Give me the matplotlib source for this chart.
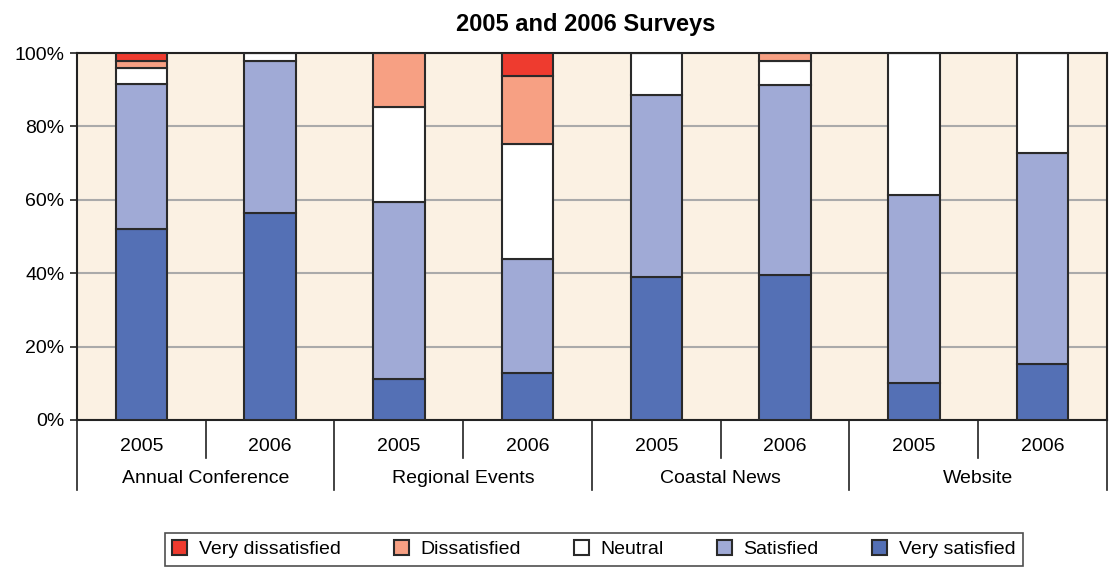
import matplotlib.pyplot as plt
import numpy as np

plt.rcParams['font.family'] = ['Liberation Sans', 'DejaVu Sans']

groups = ['Annual Conference', 'Regional Events', 'Coastal News', 'Website']
years = ['2005', '2006']
levels = ['Very satisfied', 'Satisfied', 'Neutral', 'Dissatisfied', 'Very dissatisfied']
colors = ['#5470B5', '#A0AAD6', '#FFFFFF', '#F7A083', '#EE3B2F']

# percent per bar, order: AC05, AC06, RE05, RE06, CN05, CN06, W05, W06
very_satisfied = [52.0, 56.4, 11.2, 12.8, 39.0, 39.5, 10.1, 15.3]
satisfied = [39.6, 41.5, 48.1, 31.1, 49.6, 51.9, 51.2, 57.5]
neutral = [4.2, 2.1, 26.0, 31.3, 11.4, 6.5, 38.7, 27.2]
dissatisfied = [2.1, 0.0, 14.7, 18.6, 0.0, 2.1, 0.0, 0.0]
very_dissatisfied = [2.1, 0.0, 0.0, 6.2, 0.0, 0.0, 0.0, 0.0]

series = [very_satisfied, satisfied, neutral, dissatisfied, very_dissatisfied]

fig = plt.figure(figsize=(11.12, 5.67), dpi=100)
ax = fig.add_axes([0.0692, 0.2593, 0.9263, 0.6472])
ax.set_facecolor('#FBF1E3')

x = np.arange(len(very_satisfied))
bottom = np.zeros(len(x))
bars = []
for vals, col, lab in zip(series, colors, levels):
    b = ax.bar(x, vals, 0.4, bottom=bottom, color=col, edgecolor='#2a2a2a',
               linewidth=1.5, label=lab, zorder=3)
    bars.append(b)
    bottom += np.array(vals)

ax.set_xlim(-0.5, 7.5)
ax.set_ylim(0, 100)
ax.set_yticks([0, 20, 40, 60, 80, 100])
ax.set_yticklabels(['0%', '20%', '40%', '60%', '80%', '100%'], fontsize=14)
ax.yaxis.grid(True, color='#aaaaaa', linewidth=1.5, zorder=1)
ax.tick_params(axis='y', length=5, width=1.2, color='#222222', pad=4)
ax.set_xticks([])
for s in ax.spines.values():
    s.set_color('#222222')
    s.set_linewidth(1.5)

# two-level category axis underneath
tr = ax.get_xaxis_transform()
for i, g in enumerate(groups):
    left = 2 * i - 0.5
    ax.plot([left, left], [0, -0.19], transform=tr, color='#222222', lw=1.2, clip_on=False)
    ax.plot([left + 1, left + 1], [0, -0.104], transform=tr, color='#222222', lw=1.2, clip_on=False)
    ax.text(2 * i + 0.5, -0.16, g, transform=tr, ha='center', va='center', fontsize=14)
    for j, yr in enumerate(years):
        ax.text(2 * i + j, -0.073, yr, transform=tr, ha='center', va='center', fontsize=14)
ax.plot([7.5, 7.5], [0, -0.19], transform=tr, color='#222222', lw=1.2, clip_on=False)

ax.set_title('2005 and 2006 Surveys', fontsize=17, fontweight='bold', pad=16, x=0.494)

handles = bars[::-1]
leg = fig.legend(handles, levels[::-1], loc='center', bbox_to_anchor=(0.534, 0.031),
                 ncol=5, fontsize=14, frameon=True, fancybox=False,
                 edgecolor='#222222', handlelength=0.75, handleheight=0.75,
                 columnspacing=2.75, handletextpad=0.6, borderpad=0.4)
leg.get_frame().set_linewidth(1.2)

fig.savefig('out.png', dpi=100)
